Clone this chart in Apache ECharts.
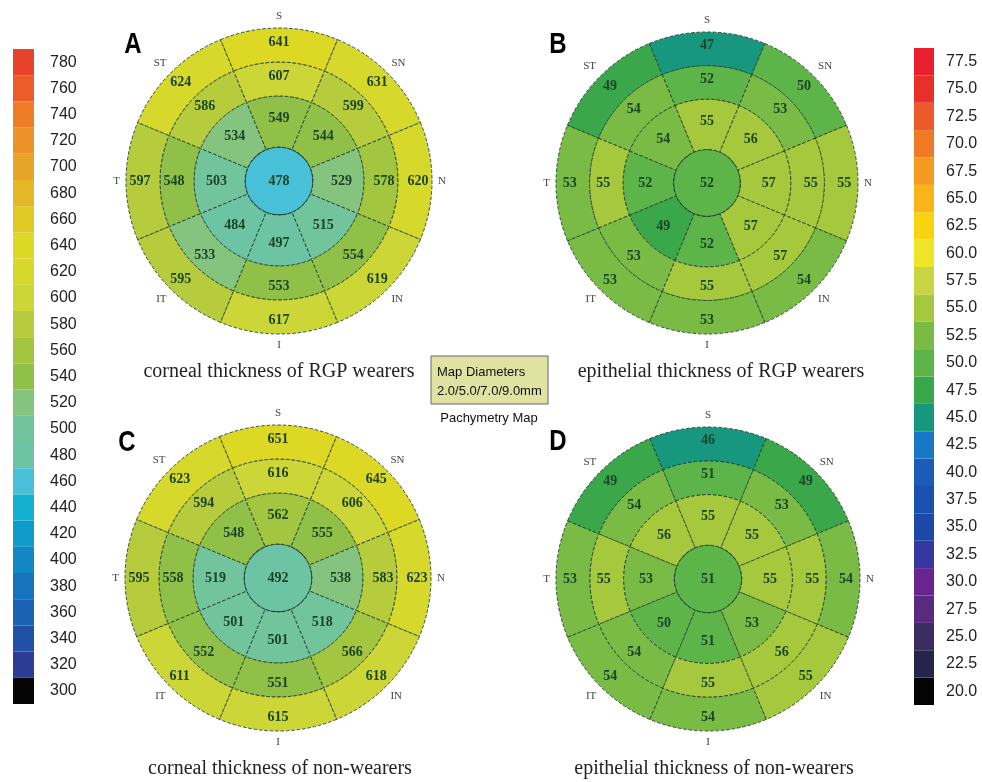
<!DOCTYPE html>
<html>
<head>
    <meta charset="UTF-8">
    <title>pachymetry maps</title>
    <script type="text/javascript" src="https://cdn.jsdelivr.net/npm/echarts@6/dist/echarts.min.js"></script>
</head>
<style>
    body { margin: 0; background: #fff; }
    .main { width: 982px; height: 782px; }
</style>
<body>
<div id="charts" class="main"></div>
<script type="text/javascript">
    // sector order, clockwise from the top
    var directions = ['S', 'SN', 'N', 'IN', 'I', 'IT', 'T', 'ST'];

    // colour bar ticks (bottom -> top)
    var cornealTicks = ['300', '320', '340', '360', '380', '400', '420', '440', '460', '480', '500', '520', '540',
        '560', '580', '600', '620', '640', '660', '680', '700', '720', '740', '760', '780'];
    var epiTicks = ['20.0', '22.5', '25.0', '27.5', '30.0', '32.5', '35.0', '37.5', '40.0', '42.5', '45.0', '47.5',
        '50.0', '52.5', '55.0', '57.5', '60.0', '62.5', '65.0', '67.5', '70.0', '72.5', '75.0', '77.5'];
    var cornealColors = ['#050505', '#2c3b95', '#2250a6', '#1a62b3', '#1574bd', '#1188c4', '#0f9ccb', '#14b0d0',
        '#48c0d8', '#6cc4a4', '#72c49c', '#84c47e', '#90c048', '#a2c640', '#b6cc3c', '#ccd636', '#d6d82c',
        '#dcd824', '#dfc922', '#e3b827', '#e6a528', '#ec9228', '#ef7c27', '#ec5c2a', '#e8432a'];
    var epiColors = ['#050505', '#26244a', '#3a2e60', '#582a80', '#6a2490', '#3438a0', '#1e48a8', '#1a50b0',
        '#1a5cb8', '#1878c8', '#17977e', '#3aa84a', '#5db54a', '#79bb45', '#a6c83c', '#c8d440', '#eee428',
        '#f8d410', '#f8b418', '#f49a20', '#f07a24', '#ec5a2a', '#e83028', '#e82030'];

    // A: corneal thickness of RGP wearers
    var rgpCornealCenter = 478;
    var rgpCornealRing5 = [549, 544, 529, 515, 497, 484, 503, 534];
    var rgpCornealRing7 = [607, 599, 578, 554, 553, 533, 548, 586];
    var rgpCornealRing9 = [641, 631, 620, 619, 617, 595, 597, 624];
    // B: epithelial thickness of RGP wearers
    var rgpEpiCenter = 52;
    var rgpEpiRing5 = [55, 56, 57, 57, 52, 49, 52, 54];
    var rgpEpiRing7 = [52, 53, 55, 57, 55, 53, 55, 54];
    var rgpEpiRing9 = [47, 50, 55, 54, 53, 53, 53, 49];
    // C: corneal thickness of non-wearers
    var nonCornealCenter = 492;
    var nonCornealRing5 = [562, 555, 538, 518, 501, 501, 519, 548];
    var nonCornealRing7 = [616, 606, 583, 566, 551, 552, 558, 594];
    var nonCornealRing9 = [651, 645, 623, 618, 615, 611, 595, 623];
    // D: epithelial thickness of non-wearers
    var nonEpiCenter = 51;
    var nonEpiRing5 = [55, 55, 55, 53, 51, 50, 53, 56];
    var nonEpiRing7 = [51, 53, 55, 56, 55, 54, 55, 54];
    var nonEpiRing9 = [46, 49, 54, 55, 54, 54, 53, 49];

    // map diameters in mm (radius = diameter / 2)
    var mapDiameters = [2.0, 5.0, 7.0, 9.0];

    var panels = [
        {letter: 'A', caption: 'corneal thickness of RGP wearers', kind: 'corneal', cx: 279, cy: 181, R: 153,
            center: rgpCornealCenter, rings: [rgpCornealRing5, rgpCornealRing7, rgpCornealRing9],
            lx: 133, ly: 45, tx: 279, ty: 372},
        {letter: 'B', caption: 'epithelial thickness of RGP wearers', kind: 'epi', cx: 707, cy: 183, R: 151,
            center: rgpEpiCenter, rings: [rgpEpiRing5, rgpEpiRing7, rgpEpiRing9],
            lx: 558, ly: 45, tx: 721, ty: 372},
        {letter: 'C', caption: 'corneal thickness of non-wearers', kind: 'corneal', cx: 278, cy: 578, R: 153,
            center: nonCornealCenter, rings: [nonCornealRing5, nonCornealRing7, nonCornealRing9],
            lx: 127, ly: 443, tx: 280, ty: 769},
        {letter: 'D', caption: 'epithelial thickness of non-wearers', kind: 'epi', cx: 708, cy: 579, R: 152,
            center: nonEpiCenter, rings: [nonEpiRing5, nonEpiRing7, nonEpiRing9],
            lx: 558, ly: 442, tx: 714, ty: 769}
    ];

    var chart = echarts.init(document.getElementById('charts'));

    var numLabel = {
        fontFamily: '"Liberation Serif", serif',
        fontWeight: 'bold',
        fontSize: 14,
        color: '#1c4528'
    };

    var series = [];
    var cornealIdx = [];
    var epiIdx = [];
    var polar = [], angleAxis = [], radiusAxis = [];
    var graphic = [];

    panels.forEach(function (p, pi) {
        var maxD = mapDiameters[mapDiameters.length - 1];
        var radii = mapDiameters.map(function (d) { return p.R * d / maxD; });
        var idxList = p.kind === 'corneal' ? cornealIdx : epiIdx;

        // center disc
        idxList.push(series.length);
        series.push({
            type: 'pie',
            silent: true,
            center: [p.cx, p.cy],
            radius: [0, radii[0]],
            startAngle: 90,
            data: [{name: 'C', value: [1, p.center]}],
            label: Object.assign({position: 'center', formatter: function (q) { return q.data.value[1]; }}, numLabel),
            labelLine: {show: false},
            itemStyle: {borderColor: '#1f4a46', borderWidth: 1.3},
            emphasis: {disabled: true}
        });
        // three rings of eight sectors
        p.rings.forEach(function (ring, ri) {
            idxList.push(series.length);
            series.push({
                type: 'pie',
                silent: true,
                center: [p.cx, p.cy],
                radius: [radii[ri], radii[ri + 1]],
                startAngle: 112.5,
                clockwise: true,
                avoidLabelOverlap: false,
                data: ring.map(function (v, i) { return {name: directions[i], value: [1, v]}; }),
                label: Object.assign({position: 'inside', formatter: function (q) { return q.data.value[1]; }}, numLabel),
                labelLine: {show: false},
                itemStyle: {borderColor: '#22402f', borderWidth: 0.9, borderType: 'dashed'},
                emphasis: {disabled: true}
            });
        });

        // direction labels round the map
        polar.push({center: [p.cx, p.cy], radius: p.R});
        angleAxis.push({
            polarIndex: pi,
            type: 'category',
            data: directions,
            startAngle: 112.5,
            axisLine: {show: false},
            axisTick: {show: false},
            splitLine: {show: false},
            axisLabel: {margin: 6, fontFamily: '"Liberation Serif", serif', fontSize: 11, color: '#444'}
        });
        radiusAxis.push({polarIndex: pi, min: 0, max: maxD / 2, show: false});

        // panel letter, narrowed like a condensed face
        graphic.push({
            type: 'text', x: p.lx, y: p.ly, scaleX: 0.8,
            style: {text: p.letter, font: 'bold 30px "Liberation Sans", Arial, sans-serif',
                fill: '#000', align: 'center', verticalAlign: 'middle', textAlign: 'center', textVerticalAlign: 'middle'}
        });
        graphic.push({
            type: 'text', x: p.tx, y: p.ty,
            style: {text: p.caption, font: '20px "Liberation Serif", serif', fill: '#222',
                align: 'center', verticalAlign: 'middle', textAlign: 'center', textVerticalAlign: 'middle'}
        });
    });

    // colour bars
    series.push({
        type: 'bar', xAxisIndex: 0, yAxisIndex: 0, silent: true,
        barCategoryGap: '0%', barWidth: '100%',
        data: cornealTicks.map(function (t, i) { return {value: 1, itemStyle: {color: cornealColors[i]}}; })
    });
    series.push({
        type: 'bar', xAxisIndex: 1, yAxisIndex: 1, silent: true,
        barCategoryGap: '0%', barWidth: '100%',
        data: epiTicks.map(function (t, i) { return {value: 1, itemStyle: {color: epiColors[i]}}; })
    });

    var barLabel = {fontFamily: '"Liberation Sans", Arial, sans-serif', fontSize: 16, color: '#222'};

    // map diameters legend box
    graphic.push({
        type: 'rect', shape: {x: 431, y: 356, width: 117, height: 48},
        style: {fill: '#e0e2a2', stroke: '#666', lineWidth: 1}
    });
    graphic.push({
        type: 'text', x: 437, y: 372,
        style: {text: 'Map Diameters', font: '13px "Liberation Sans", Arial, sans-serif', fill: '#111',
            verticalAlign: 'middle', textVerticalAlign: 'middle'}
    });
    graphic.push({
        type: 'text', x: 437, y: 391,
        style: {text: mapDiameters.map(function (d) { return d.toFixed(1); }).join('/') + 'mm',
            font: '13px "Liberation Sans", Arial, sans-serif', fill: '#111',
            verticalAlign: 'middle', textVerticalAlign: 'middle'}
    });
    graphic.push({
        type: 'text', x: 489, y: 418,
        style: {text: 'Pachymetry Map', font: '13px "Liberation Sans", Arial, sans-serif', fill: '#111',
            align: 'center', verticalAlign: 'middle', textAlign: 'center', textVerticalAlign: 'middle'}
    });

    var option = {
        animation: false,
        backgroundColor: '#fff',
        visualMap: [
            {
                type: 'piecewise', show: false, dimension: 1, seriesIndex: cornealIdx,
                pieces: cornealTicks.map(function (t, i) { return {gte: +t, lt: +t + 20, color: cornealColors[i]}; })
            },
            {
                type: 'piecewise', show: false, dimension: 1, seriesIndex: epiIdx,
                pieces: epiTicks.map(function (t, i) { return {gte: +t, lt: +t + 2.5, color: epiColors[i]}; })
            }
        ],
        grid: [
            {left: 13, top: 49, width: 21, height: 655},
            {left: 914, top: 48, width: 20, height: 657}
        ],
        xAxis: [
            {gridIndex: 0, type: 'value', min: 0, max: 1, show: false},
            {gridIndex: 1, type: 'value', min: 0, max: 1, show: false}
        ],
        yAxis: [
            {gridIndex: 0, type: 'category', data: cornealTicks, position: 'right',
                axisLine: {show: false}, axisTick: {show: false},
                axisLabel: Object.assign({margin: 16}, barLabel)},
            {gridIndex: 1, type: 'category', data: epiTicks, position: 'right',
                axisLine: {show: false}, axisTick: {show: false},
                axisLabel: Object.assign({margin: 12}, barLabel)}
        ],
        polar: polar,
        angleAxis: angleAxis,
        radiusAxis: radiusAxis,
        graphic: graphic,
        series: series
    };

    option && chart.setOption(option);
</script>
</body>
</html>
